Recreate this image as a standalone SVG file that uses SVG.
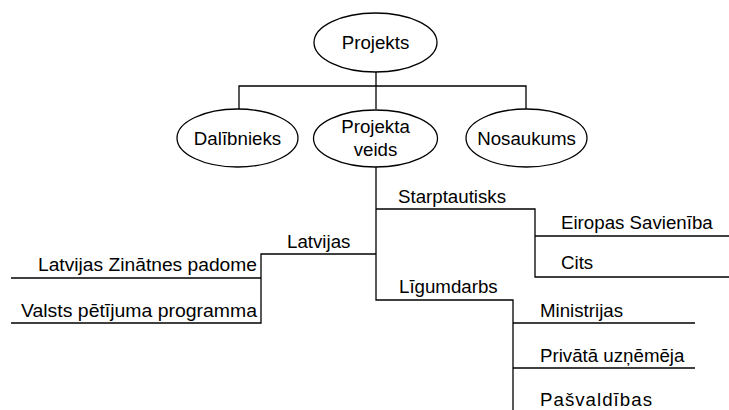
<svg xmlns="http://www.w3.org/2000/svg" width="729" height="410" viewBox="0 0 729 410">
  <style>
    .node ellipse { fill: #ffffff; stroke: #000000; stroke-width: 1.3; }
    .lbl { font-family: "Liberation Sans", Arial, sans-serif; font-size: 18.7px; fill: #000000; }
    .mid { text-anchor: middle; }
    .end { text-anchor: end; }
    #connectors path { fill: none; stroke: #000000; stroke-width: 1.3; }
  </style>
  <rect width="729" height="410" fill="#ffffff"/>

  <!-- connector lines -->
  <g id="connectors">
    <path d="M376,72 V109"/>
    <path d="M239,109 V86 H526 V109"/>
    <path d="M376,167 V300 H513 V410"/>
    <path d="M376,209 H535 V277 H729"/>
    <path d="M535,236 H729"/>
    <path d="M376,254 H261 V323 H11"/>
    <path d="M261,278 H11"/>
    <path d="M513,323 H695"/>
    <path d="M513,368 H695"/>
  </g>

  <!-- ellipse nodes -->
  <g id="projekts" class="node">
    <ellipse cx="375.5" cy="42.5" rx="61.5" ry="29.5"/>
    <text class="lbl mid" x="375.5" y="49">Projekts</text>
  </g>
  <g id="dalibnieks" class="node">
    <ellipse cx="237.5" cy="138" rx="60.5" ry="29"/>
    <text class="lbl mid" x="237.5" y="144.5">Dalībnieks</text>
  </g>
  <g id="projekta-veids" class="node">
    <ellipse cx="375.5" cy="138.5" rx="62" ry="28.5"/>
    <text class="lbl mid" x="375.5" y="133">Projekta</text>
    <text class="lbl mid" x="375.5" y="156">veids</text>
  </g>
  <g id="nosaukums" class="node">
    <ellipse cx="526.5" cy="138" rx="60.5" ry="29"/>
    <text class="lbl mid" x="526.5" y="144.5">Nosaukums</text>
  </g>

  <!-- tree labels -->
  <g id="starptautisks"><text class="lbl" x="398" y="203">Starptautisks</text></g>
  <g id="eiropas-savieniba"><text class="lbl" x="561" y="229">Eiropas Savienība</text></g>
  <g id="cits"><text class="lbl" x="561" y="269">Cits</text></g>
  <g id="latvijas"><text class="lbl" x="287" y="248">Latvijas</text></g>
  <g id="lzp"><text class="lbl" x="38" y="271" textLength="219" lengthAdjust="spacingAndGlyphs">Latvijas Zinātnes padome</text></g>
  <g id="vpp"><text class="lbl" x="21" y="317" textLength="236" lengthAdjust="spacingAndGlyphs">Valsts pētījuma programma</text></g>
  <g id="ligumdarbs"><text class="lbl" x="399" y="293">Līgumdarbs</text></g>
  <g id="ministrijas"><text class="lbl" x="540" y="317">Ministrijas</text></g>
  <g id="privata"><text class="lbl" x="540" y="362">Privātā uzņēmēja</text></g>
  <g id="pasvaldibas"><text class="lbl" x="540" y="406" textLength="112" lengthAdjust="spacing">Pašvaldības</text></g>
</svg>
